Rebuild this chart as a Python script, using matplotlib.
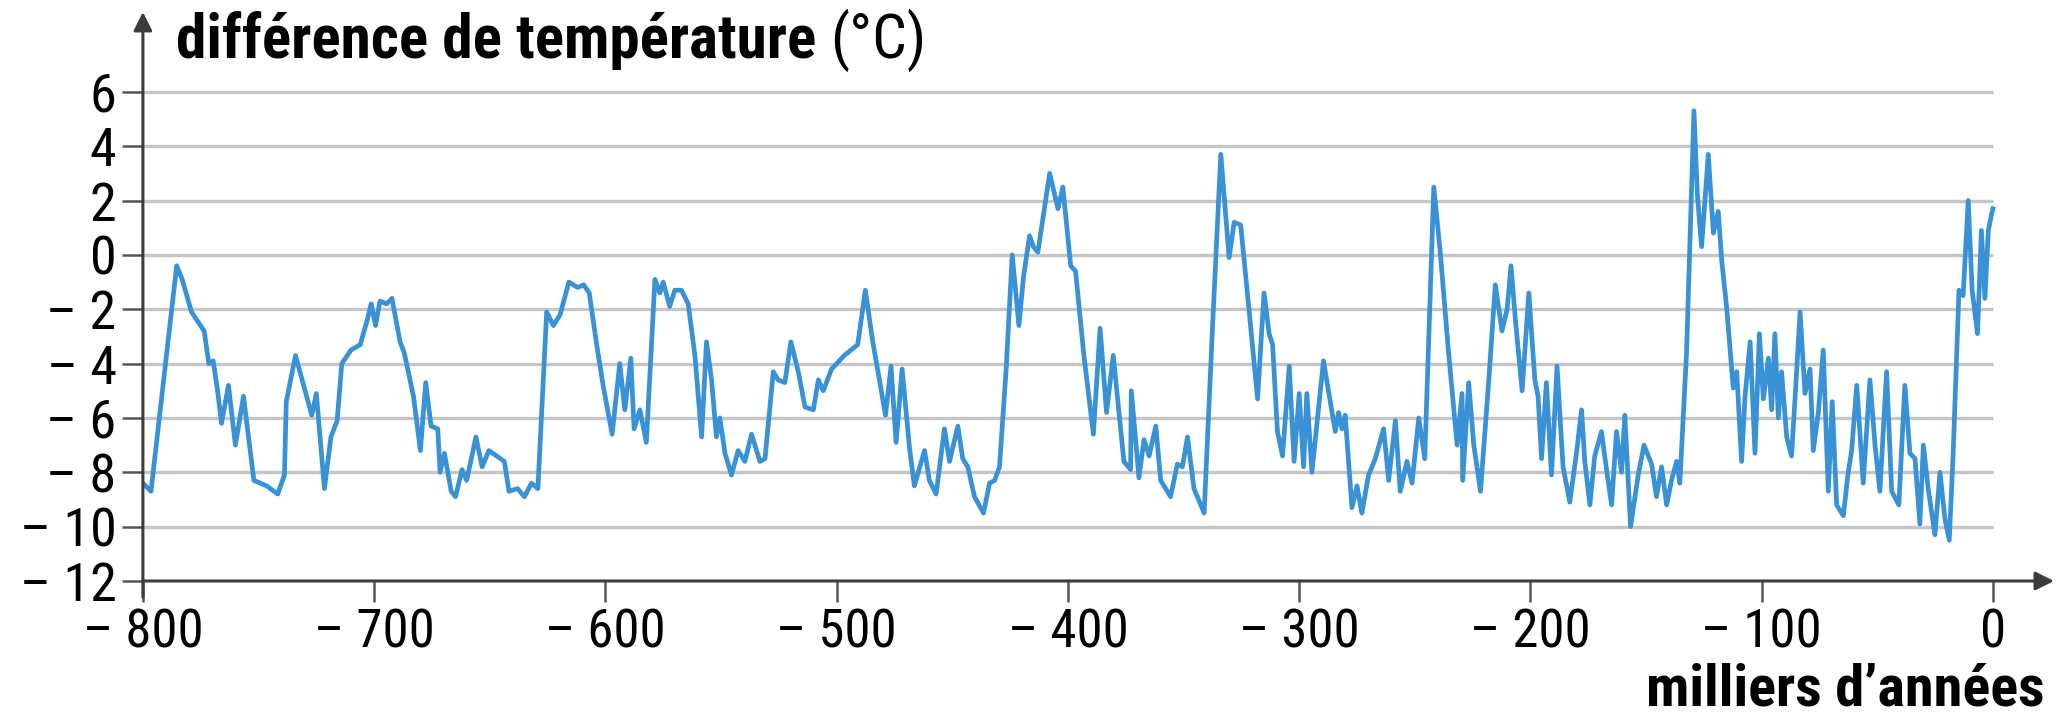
import matplotlib
matplotlib.use("Agg")
import matplotlib.pyplot as plt

# EPICA-like temperature record
kyr = [-800, -796.5, -785.4, -783, -779, -773.5, -771.5, -769.6, -767.7, -766,
       -763, -760, -756.5, -752, -746.5, -741.7, -738.8, -738, -734, -727,
       -725, -721.5, -718.7, -716, -714, -710, -706, -703, -701.3, -699.4,
       -697.5, -694.6, -692.3, -688.8, -687, -683, -680, -677.7, -675.4, -672.5,
       -671.5, -669.6, -666.7, -664.8, -662, -660, -656, -653.3, -650.4, -643.7,
       -641.7, -638, -635, -632, -629.2, -625.4, -622.5, -619.6, -615.8, -612,
       -609.4, -607, -603.6, -601, -597.1,
       -593.8, -591.6, -589, -587.6, -585.1, -582.3, -578.6, -576.5, -575, -572.2,
       -570, -567.1, -564.2, -561.3, -558.4, -556.3, -554.1, -552, -550.5, -548.3,
       -545.5, -542.6, -539.7, -536.8, -533.2, -531, -527.4, -525.3, -522.4, -519.8,
       -516.6, -513.7, -510.1, -507.9, -505.8, -502.2,
       -496.7, -490.9, -487.6, -484.4, -481.5, -478.9, -476.5, -474.3, -471.7, -468.5,
       -466.4, -462, -459.9, -457, -453.4, -451.2, -447.6, -445.5, -443.3, -440.4,
       -436.5, -433.9, -431.7, -429.6, -426.7, -424.1, -421.2, -419.2, -416.6, -414.9,
       -413, -407.9, -404.3, -402.2,
       -398.8, -396.7, -393.1, -389, -386.1, -383.3, -380.4, -375.8, -372.9, -372.6,
       -369.3, -367.1, -364.9, -362, -359.9, -355.6, -352.7, -350.5, -348.3, -345.5,
       -341.1, -337.5, -333.9, -330.3, -328.1, -325.3, -321.6, -318, -315.2, -313,
       -311.5, -309.4, -307.2, -304.3, -302.2, -300,
       -298.1, -296.7, -294.5, -289.5, -284.4, -283, -281.5, -280.1, -277.2, -275,
       -272.9, -270, -267.1, -263.5, -261.3, -258.4, -256.3, -253.4, -251.2, -248.3,
       -245.7, -241.8, -239, -235.4, -231.7, -229.6, -229.3, -226.7, -224.5, -221.6,
       -218, -215.2, -212.3, -210.1, -208.4, -206.5, -203.6, -200.7,
       -198.1, -196.7, -195.2, -193.1, -190.9, -188.5, -185.9, -183, -180.1, -177.9,
       -176.5, -174.3, -172.2, -169.3, -167.1, -164.9, -162.8, -160.6, -159.2, -156.7,
       -153.4, -150.9, -147.6, -145.5, -143.3, -141.1, -139, -136.8, -135.4, -132.5,
       -129.3, -127.8, -126, -123.1, -120.9, -118.8, -117.3, -115.2, -112.3, -110.8,
       -108.7, -107.2, -105, -102.9, -101,
       -99.3, -97.1, -95.7, -94.3, -92.8, -91.4, -89.2, -87.1, -85.6, -83.4,
       -81.3, -79.1, -77.7, -75.5, -73.4, -71.2, -69.5, -67.6, -64.7, -62.6,
       -61.1, -58.9, -56.1, -53.2, -51.0, -48.9, -46, -43.8, -40.7, -38.1,
       -35.9, -33.7, -31.6, -30.1, -28, -25.1, -22.9, -20.8, -18.9, -17.2,
       -14.7, -12.9, -10.7, -9, -6.7, -5, -3.5, -2.0, -0.6, 0]

temp = [-8.4, -8.7, -0.4, -0.9, -2.1, -2.8, -4.0, -3.9, -5.0, -6.2,
        -4.8, -7.0, -5.2, -8.3, -8.5, -8.8, -8.1, -5.4, -3.7, -5.9,
        -5.1, -8.6, -6.7, -6.1, -4.0, -3.5, -3.3, -2.4, -1.8, -2.6,
        -1.7, -1.8, -1.6, -3.2, -3.6, -5.2, -7.2, -4.7, -6.3, -6.4,
        -8.0, -7.3, -8.7, -8.9, -7.9, -8.3, -6.7, -7.8, -7.2, -7.6,
        -8.7, -8.6, -8.9, -8.4, -8.6, -2.1, -2.6, -2.2, -1.0, -1.2,
        -1.1, -1.4, -3.4, -4.8, -6.6,
        -4.0, -5.7, -3.8, -6.4, -5.7, -6.9, -0.9, -1.4, -1.0, -1.9,
        -1.3, -1.3, -1.8, -3.7, -6.7, -3.2, -4.6, -6.7, -6.0, -7.3,
        -8.1, -7.2, -7.6, -6.6, -7.6, -7.5, -4.3, -4.6, -4.7, -3.2,
        -4.3, -5.6, -5.7, -4.6, -5.0, -4.2,
        -3.7, -3.3, -1.3, -3.2, -4.6, -5.9, -4.1, -6.9, -4.2, -7.1,
        -8.5, -7.2, -8.3, -8.8, -6.4, -7.6, -6.3, -7.5, -7.8, -8.9,
        -9.5, -8.4, -8.3, -7.8, -4.2, 0.0, -2.6, -0.8, 0.7, 0.3,
        0.1, 3.0, 1.7, 2.5,
        -0.4, -0.6, -3.7, -6.6, -2.7, -5.8, -3.7, -7.6, -7.9, -5.0,
        -8.2, -6.8, -7.4, -6.3, -8.3, -8.9, -7.7, -7.8, -6.7, -8.6,
        -9.5, -2.7, 3.7, -0.1, 1.2, 1.1, -2.1, -5.3, -1.4, -2.9,
        -3.3, -6.5, -7.4, -4.1, -7.6, -5.1,
        -7.8, -5.1, -8.0, -3.9, -6.5, -5.8, -6.4, -5.9, -9.3, -8.5,
        -9.5, -8.1, -7.5, -6.4, -8.3, -6.1, -8.7, -7.6, -8.4, -6.0,
        -7.5, 2.5, 0.1, -3.6, -7.0, -5.1, -8.3, -4.7, -7.0, -8.7,
        -4.6, -1.1, -2.8, -2.0, -0.4, -2.4, -5.0, -1.4,
        -4.6, -5.2, -7.5, -4.7, -8.1, -4.1, -7.8, -9.1, -7.3, -5.7,
        -7.6, -9.2, -7.4, -6.5, -7.9, -9.2, -6.5, -8.0, -5.9, -10.0,
        -8.1, -7.0, -7.7, -8.9, -7.8, -9.2, -8.3, -7.6, -8.4, -3.6,
        5.3, 2.2, 0.3, 3.7, 0.8, 1.6, -0.2, -1.9, -4.9, -4.3,
        -7.6, -5.2, -3.2, -7.3, -2.9,
        -5.3, -3.8, -5.7, -2.9, -6.0, -4.3, -6.7, -7.4, -5.3, -2.1,
        -5.1, -4.2, -7.2, -5.8, -3.5, -8.7, -5.4, -9.2, -9.6, -8.0,
        -7.2, -4.8, -8.4, -4.6, -7.0, -8.7, -4.3, -8.7, -9.2, -4.8,
        -7.3, -7.5, -9.9, -7.0, -8.6, -10.3, -8.0, -9.7, -10.5, -7.3,
        -1.3, -1.5, 2.0, -1.3, -2.9, 0.9, -1.6, 0.9, 1.5, 1.7]

x_ticks = [-800, -700, -600, -500, -400, -300, -200, -100, 0]
x_labels = ["– 800", "– 700", "– 600", "– 500", "– 400", "– 300", "– 200", "– 100", "0"]
y_ticks = [6, 4, 2, 0, -2, -4, -6, -8, -10, -12]
y_labels = ["6", "4", "2", "0", "– 2", "– 4", "– 6", "– 8", "– 10", "– 12"]

FONT = ["Roboto Condensed", "Roboto", "DejaVu Sans"]
line_color = "#3a92d6"
axis_color = "#3c3c3c"
grid_color = "#c6c6c6"

fig = plt.figure(figsize=(20.71, 7.21), dpi=100)
ax = fig.add_axes([0.0690, 0.1942, 0.9228, 0.7892])
x_end = 26.4
y_top = 8.94
ax.set_xlim(-800, x_end)
ax.set_ylim(-12, y_top)

for s in ax.spines.values():
    s.set_visible(False)

# horizontal grid, stops at 0
ax.hlines(y_ticks[:-1], -800, 0, color=grid_color, lw=2.4, zorder=1)

ax.plot(kyr, temp, color=line_color, lw=3.4, zorder=3)

# axes with arrows
ax.annotate("", xy=(x_end, -12), xytext=(-800, -12),
            arrowprops=dict(arrowstyle="-|>", color=axis_color, lw=2.2,
                            mutation_scale=28, shrinkA=0, shrinkB=0),
            annotation_clip=False, zorder=4)
ax.annotate("", xy=(-800, y_top), xytext=(-800, -12.6),
            arrowprops=dict(arrowstyle="-|>", color=axis_color, lw=2.2,
                            mutation_scale=28, shrinkA=0, shrinkB=0),
            annotation_clip=False, zorder=4)

ax.set_xticks(x_ticks)
ax.set_xticklabels(x_labels, family=FONT, fontsize=38)
ax.set_yticks(y_ticks)
ax.set_yticklabels(y_labels, family=FONT, fontsize=39)
ax.tick_params(axis="x", length=15, width=1.8, color="#555555", pad=4)
ax.tick_params(axis="y", length=15, width=1.8, color="#555555", pad=4)

title = fig.text(176 / 2071, 1 - 40 / 721, "différence de température", family=FONT,
                 fontsize=44, fontweight="bold", va="center", ha="left")
fig.canvas.draw()
bb = title.get_window_extent()
fig.text((bb.x1 + 14) / 2071, 1 - 40 / 721, "(°C)", family=FONT,
         fontsize=44, va="center", ha="left")
fig.text(2045 / 2071, 4 / 721, "milliers d’années", family=FONT,
         fontsize=42, fontweight="bold", va="bottom", ha="right")

fig.savefig("out.png", dpi=100, facecolor="white")
